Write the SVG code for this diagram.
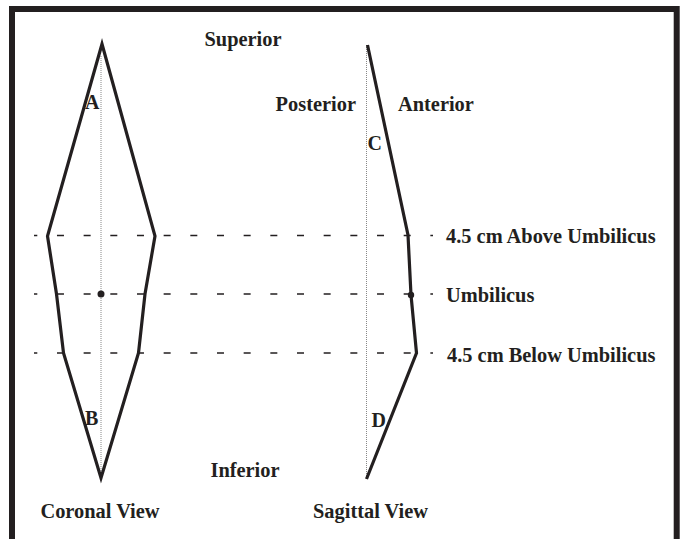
<svg xmlns="http://www.w3.org/2000/svg" width="683" height="539" viewBox="0 0 683 539">
<style>
.t{font-family:"Liberation Serif","Times New Roman",serif;font-weight:bold;font-size:20.4px;fill:#231f20}
.L{font-family:"Liberation Serif","Times New Roman",serif;font-weight:bold;font-size:20px;fill:#231f20}
.thick{fill:none;stroke:#231f20;stroke-width:3.2;stroke-linejoin:miter}
.dot{fill:none;stroke:#888;stroke-width:1;stroke-dasharray:1 1}
.dash{stroke:#231f20;stroke-width:1.5;stroke-dasharray:7 19.67;stroke-dashoffset:3.7}
</style>
<rect width="683" height="539" fill="#fff"/>
<rect x="12" y="9" width="664.7" height="560" fill="none" stroke="#231f20" stroke-width="6"/>
<g id="connectors">
<line class="dash" x1="34" y1="235.5" x2="433" y2="235.5"/>
<line class="dash" x1="34" y1="294" x2="433" y2="294"/>
<line class="dash" x1="34" y1="353" x2="433" y2="353"/>
</g>
<g id="coronal">
<line class="dot" x1="101" y1="56" x2="101" y2="476"/>
<polygon class="thick" points="102,44 155,236 145,294 138.5,353 101,478 63.5,353 56.5,294 47.5,236"/>
<circle cx="101" cy="294" r="3.5" fill="#231f20"/>
<text class="L" x="85" y="109">A</text>
<text class="L" x="85" y="425">B</text>
<text class="t" x="100" y="518" text-anchor="middle">Coronal View</text>
</g>
<g id="sagittal">
<line class="dot" x1="366.5" y1="45" x2="366.5" y2="479"/>
<polyline class="thick" points="367.5,45 408,235 411,295 416.5,353 366.5,479"/>
<circle cx="411" cy="295" r="3.2" fill="#231f20"/>
<text class="L" x="367.5" y="150">C</text>
<text class="L" x="371.5" y="427">D</text>
<text class="t" x="370.5" y="518" text-anchor="middle">Sagittal View</text>
</g>
<g id="labels">
<text class="t" x="243" y="46" text-anchor="middle">Superior</text>
<text class="t" x="245" y="477" text-anchor="middle">Inferior</text>
<text class="t" x="356" y="111" text-anchor="end">Posterior</text>
<text class="t" x="398" y="111">Anterior</text>
<text class="t" x="446" y="243">4.5 cm Above Umbilicus</text>
<text class="t" x="446" y="302">Umbilicus</text>
<text class="t" x="447" y="362">4.5 cm Below Umbilicus</text>
</g>
</svg>
